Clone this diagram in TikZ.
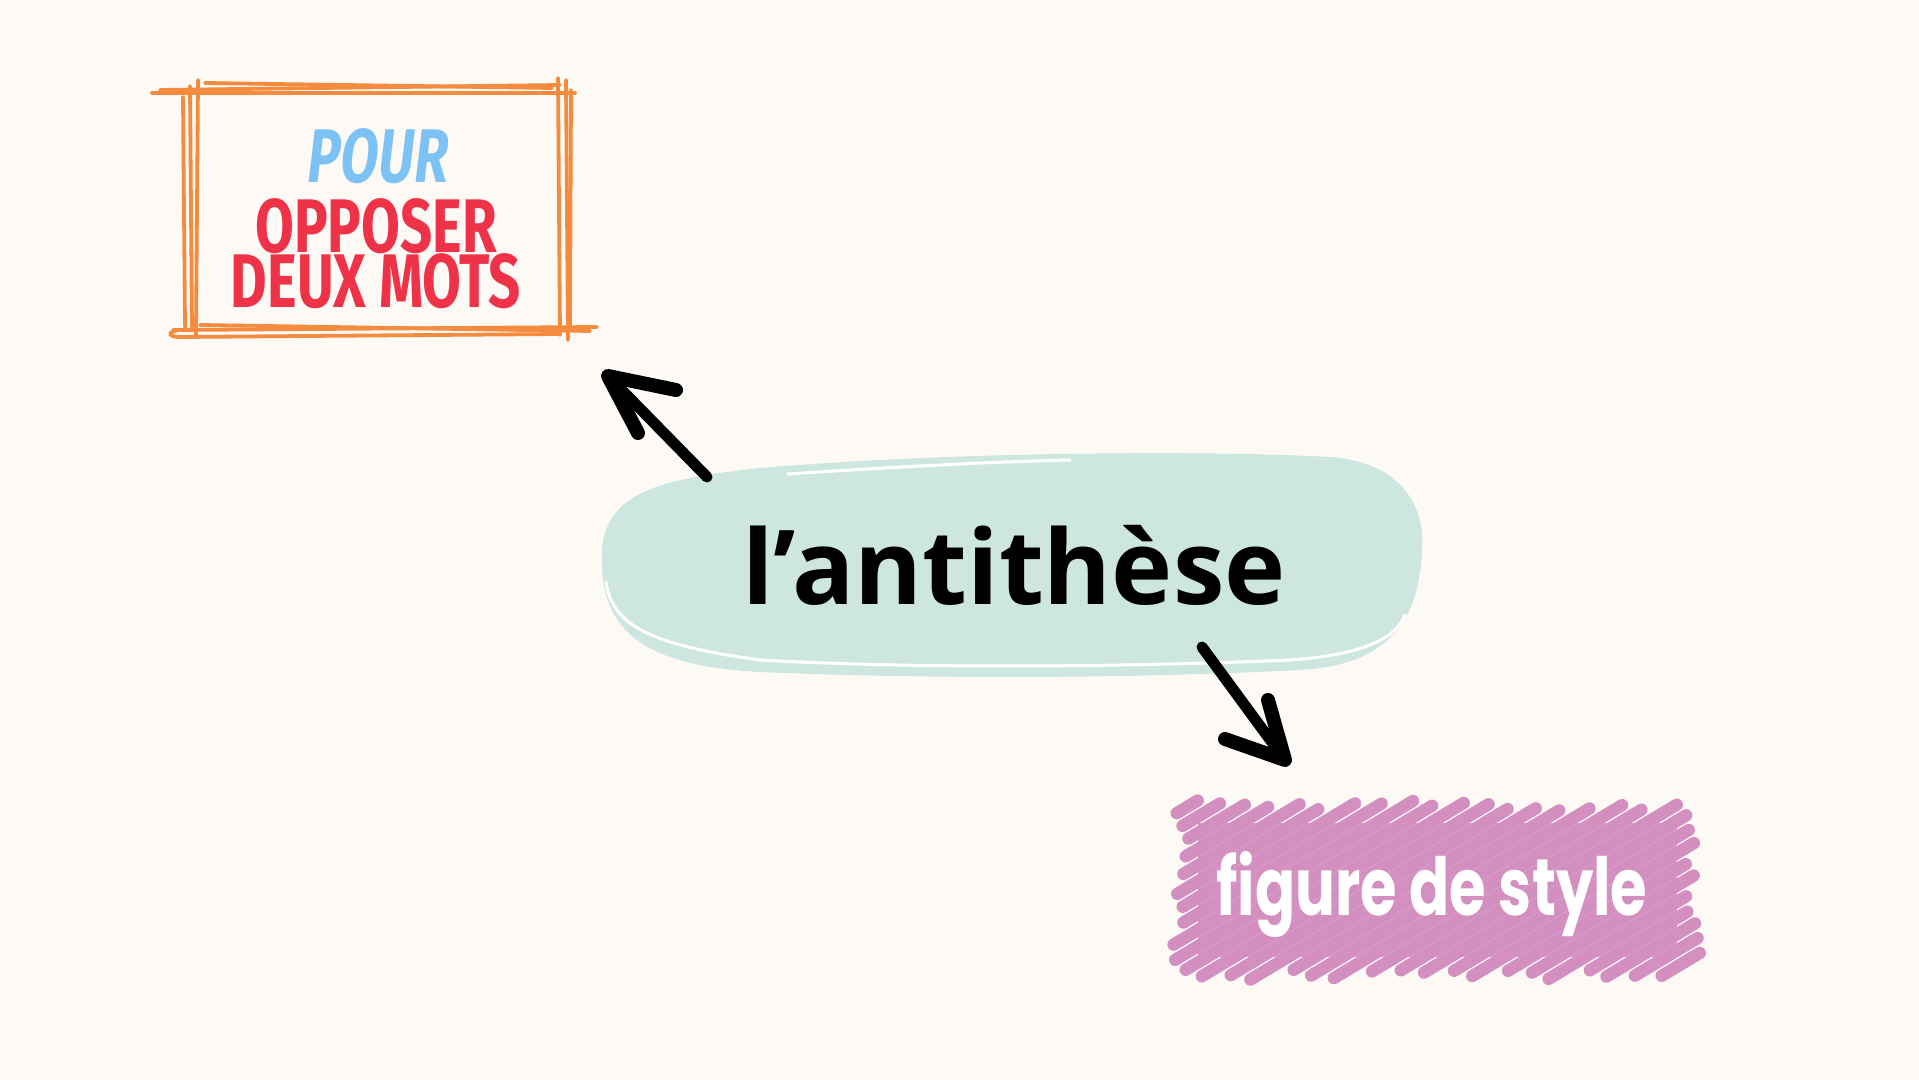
\documentclass[tikz,border=0pt]{standalone}
\usepackage{fontspec}
\newfontfamily\opensans{Open Sans}
\newfontfamily\bebas[FakeStretch=0.74]{Fira Sans}
\newfontfamily\bebasit[FakeStretch=0.72,FakeSlant=0.12]{Fira Sans}
\newfontfamily\roundf[FakeStretch=0.74]{Poppins}
\definecolor{bgc}{HTML}{FDFAF6}
\definecolor{tealc}{HTML}{CDE6DF}
\definecolor{orangec}{HTML}{F58B3E}
\definecolor{redc}{HTML}{EE3349}
\definecolor{bluec}{HTML}{7DC2F4}
\definecolor{pinkc}{HTML}{D38FC0}
\definecolor{pinklt}{HTML}{D89BC7}
\tikzset{
  sketch/.style={draw=orangec, line width=1.9pt, line cap=round},
  scrib/.style={draw=pinkc, line width=6.2pt, line cap=round},
  hl/.style={draw=white, line width=1.5pt, line cap=round},
  arrowline/.style={draw=black, line width=5.5pt, line cap=round, line join=round},
  arrowhd/.style={draw=black, line width=7pt, line cap=round, line join=round},
  bigcap/.style={font=\bebas\bfseries\fontsize{38pt}{35pt}\selectfont, inner sep=0pt, align=center},
}
\begin{document}
\begin{tikzpicture}[x=0.5pt,y=-0.5pt]
\fill[bgc] (0,0) rectangle (1919,1080);
\useasboundingbox (0,0) rectangle (1919,1080);

% ---- orange sketched box ----
\draw[sketch] (152,93) -- (575,93);
\draw[sketch] (205,83) -- (552,88);
\draw[sketch] (160,90) -- (560,85);
\draw[sketch] (183,97) -- (185,327);
\draw[sketch] (198,80) -- (196,336);
\draw[sketch] (190,86) -- (192,330);
\draw[sketch] (558,78) -- (560,335);
\draw[sketch] (566,80) -- (568,340);
\draw[sketch] (571,90) -- (570,330);
\draw[sketch] (173,330) -- (597,327);
\draw[sketch] (180,337) -- (560,334);
\draw[sketch] (200,325) -- (590,331);
\draw[sketch] (180,330) .. controls (165,332) and (168,338) .. (185,337);

\node[bigcap, anchor=north] (goal) at (376,128)
  {{\bebasit\bfseries\color{bluec}POUR}\\
   {\color{redc}OPPOSER}\\[-7.5pt]
   {\color{redc}DEUX MOTS}};

% ---- teal blob ----
\fill[tealc] (602,565) .. controls (598,495) and (650,480) .. (760,468)
  .. controls (950,452) and (1200,450) .. (1330,457)
  .. controls (1400,462) and (1426,505) .. (1422,552)
  .. controls (1418,625) and (1385,665) .. (1300,670)
  .. controls (1100,680) and (900,678) .. (760,672)
  .. controls (650,666) and (604,635) .. cycle;
\draw[hl] (606,582) .. controls (612,625) and (650,645) .. (760,660)
  .. controls (900,668) and (1100,668) .. (1290,660)
  .. controls (1360,655) and (1395,640) .. (1405,615);
\draw[hl] (788,474) .. controls (880,468) and (980,462) .. (1070,460);
\node[font=\opensans\bfseries\fontsize{51.7pt}{51.7pt}\selectfont, inner sep=0pt, anchor=base] (anti) at (1014,605) {l’antithèse};

% ---- pink scribble ----
\pgfmathsetseed{11}
\fill[pinklt] (1198,823) rectangle (1677,957);
\foreach \a in {912,939,...,1700}{
  \pgfmathsetmacro\xs{max(1184,\a)}
  \pgfmathsetmacro\xe{min(1690,\a+273)}
  \pgfmathsetmacro\ys{972-0.6*(\xs-\a)}
  \pgfmathsetmacro\ye{972-0.6*(\xe-\a)}
  \pgfmathsetmacro\ja{rnd*22-6}
  \pgfmathsetmacro\jb{rnd*22-6}
  \ifdim\xs pt<\xe pt
    \draw[scrib] (\xs-\ja*0.857,\ys+\ja*0.514) -- (\xe+\jb*0.857,\ye-\jb*0.514);
  \fi
}
\node[font=\roundf\bfseries\fontsize{40pt}{40pt}\selectfont, text=white, inner sep=0pt, anchor=base] (fig) at (1432,915) {figure de style};

% ---- arrows ----
\coordinate (a1s) at (707,477);
\coordinate (a1t) at (608,376);
\coordinate (a1l) at (676,390);
\coordinate (a1r) at (638,433);
\draw[arrowline] (a1s) -- (a1t);
\draw[arrowhd] (a1l) -- (a1t) -- (a1r);

\coordinate (a2s) at (1202,647);
\coordinate (a2t) at (1285,760);
\coordinate (a2l) at (1225,739);
\coordinate (a2r) at (1268,700);
\draw[arrowline] (a2s) -- (a2t);
\draw[arrowhd] (a2l) -- (a2t) -- (a2r);
\end{tikzpicture}
\end{document}
